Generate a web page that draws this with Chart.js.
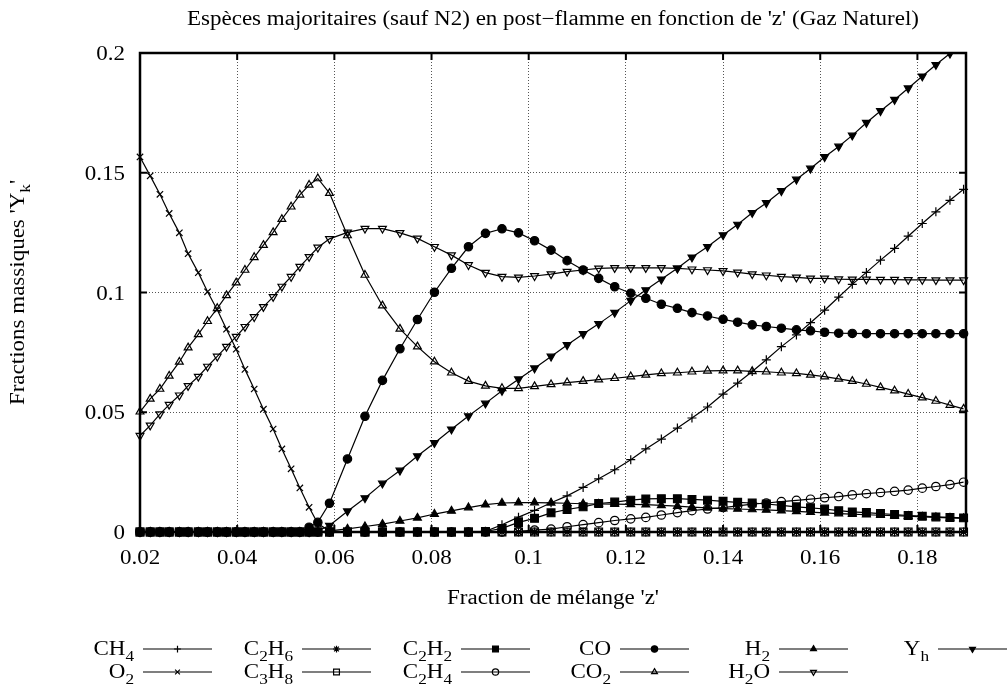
<!DOCTYPE html>
<html>
<head>
<meta charset="utf-8">
<title>Espèces majoritaires</title>
<script src="https://cdn.jsdelivr.net/npm/chart.js@4.4.0/dist/chart.umd.min.js"></script>
<style>
  html, body { margin: 0; padding: 0; background: #fff; }
</style>
</head>
<body>
<canvas id="especes" width="1007" height="686"></canvas>
<script>
// mixture fraction z of each computed point
let zValues = [
  0.0200, 0.0221, 0.0241, 0.0260, 0.0281, 0.0299, 0.0320, 0.0339, 0.0359, 0.0378,
  0.0398, 0.0416, 0.0435, 0.0454, 0.0474, 0.0492, 0.0511, 0.0529, 0.0548, 0.0566,
  0.0590, 0.0627, 0.0663, 0.0699, 0.0735, 0.0771, 0.0806, 0.0841, 0.0876, 0.0911,
  0.0945, 0.0979, 0.1012, 0.1046, 0.1079, 0.1112, 0.1144, 0.1177, 0.1210, 0.1241,
  0.1273, 0.1306, 0.1336, 0.1368, 0.1400, 0.1430, 0.1460, 0.1489, 0.1520, 0.1551,
  0.1580, 0.1609, 0.1638, 0.1666, 0.1695, 0.1724, 0.1753, 0.1781, 0.1810, 0.1838,
  0.1867, 0.1895
];

// mass fractions Y_k
let yCH4 = [
  0, 0, 0, 0, 0, 0, 0, 0, 0, 0,
  0, 0, 0, 0, 0, 0, 0, 0, 0, 0,
  0, 0, 0, 0, 0, 0, 0, 0, 0, 0.0003,
  0.0030, 0.0062, 0.0090, 0.0122, 0.0151, 0.0186, 0.0222, 0.0260, 0.0302, 0.0347,
  0.0388, 0.0434, 0.0476, 0.0522, 0.0576, 0.0622, 0.0670, 0.0719, 0.0774, 0.0823,
  0.0874, 0.0926, 0.0981, 0.1034, 0.1084, 0.1135, 0.1184, 0.1235, 0.1288, 0.1337,
  0.1385, 0.1431
];
let yC2H6 = [
  0, 0, 0, 0, 0, 0, 0, 0, 0, 0,
  0, 0, 0, 0, 0, 0, 0, 0, 0, 0,
  0, 0, 0, 0, 0, 0, 0, 0, 0, 0,
  0, 0, 0, 0, 0, 0, 0, 0, 0, 0,
  0, 0, 0, 0, 0, 0, 0, 0, 0, 0,
  0, 0, 0, 0, 0, 0, 0, 0, 0, 0,
  0, 0
];
let yC2H2 = [
  0, 0, 0, 0, 0, 0, 0, 0, 0, 0,
  0, 0, 0, 0, 0, 0, 0, 0, 0, 0,
  0, 0, 0, 0, 0, 0, 0, 0, 0, 0.0002,
  0.0015, 0.0040, 0.0057, 0.0080, 0.0094, 0.0105, 0.0119, 0.0125, 0.0133, 0.0138,
  0.0139, 0.0139, 0.0136, 0.0133, 0.0128, 0.0124, 0.0121, 0.0117, 0.0111, 0.0105,
  0.0101, 0.0096, 0.0089, 0.0084, 0.0081, 0.0077, 0.0073, 0.0069, 0.0066, 0.0063,
  0.0061, 0.0059
];
let yCO = [
  0, 0, 0, 0, 0, 0, 0, 0, 0, 0,
  0, 0, 0, 0, 0, 0, 0, 0, 0.0020, 0.0040,
  0.0120, 0.0305, 0.0483, 0.0633, 0.0765, 0.0887, 0.1001, 0.1101, 0.1191, 0.1247,
  0.1266, 0.1249, 0.1216, 0.1177, 0.1133, 0.1094, 0.1059, 0.1024, 0.0997, 0.0976,
  0.0951, 0.0934, 0.0916, 0.0902, 0.0888, 0.0876, 0.0865, 0.0858, 0.0851, 0.0844,
  0.0840, 0.0834, 0.0830, 0.0829, 0.0828, 0.0828, 0.0828, 0.0828, 0.0828, 0.0828,
  0.0828, 0.0828
];
let yH2 = [
  0, 0, 0, 0, 0, 0, 0, 0, 0, 0,
  0, 0, 0, 0, 0, 0, 0, 0, 0, 0,
  0.0005, 0.0013, 0.0023, 0.0033, 0.0046, 0.0059, 0.0075, 0.0088, 0.0102, 0.0114,
  0.0121, 0.0123, 0.0123, 0.0122, 0.0120, 0.0118, 0.0117, 0.0116, 0.0115, 0.0114,
  0.0111, 0.0108, 0.0104, 0.0101, 0.0098, 0.0096, 0.0094, 0.0092, 0.0089, 0.0086,
  0.0083, 0.0080, 0.0077, 0.0075, 0.0072, 0.0070, 0.0068, 0.0066, 0.0063, 0.0061,
  0.0059, 0.0057
];
let yYh = [
  0, 0, 0, 0, 0, 0, 0, 0, 0, 0,
  0, 0, 0, 0, 0, 0, 0, 0, 0, 0.0005,
  0.0027, 0.0087, 0.0142, 0.0203, 0.0257, 0.0317, 0.0372, 0.0429, 0.0484, 0.0537,
  0.0590, 0.0638, 0.0684, 0.0733, 0.0781, 0.0827, 0.0869, 0.0916, 0.0966, 0.1010,
  0.1055, 0.1101, 0.1147, 0.1191, 0.1240, 0.1284, 0.1333, 0.1374, 0.1424, 0.1472,
  0.1518, 0.1566, 0.1610, 0.1656, 0.1709, 0.1758, 0.1805, 0.1853, 0.1903, 0.1951,
  0.1998, 0.2045
];
let yO2 = [
  0.1566, 0.1487, 0.1410, 0.1330, 0.1249, 0.1162, 0.1083, 0.1003, 0.0928, 0.0847,
  0.0763, 0.0679, 0.0597, 0.0513, 0.0430, 0.0347, 0.0264, 0.0184, 0.0103, 0.0035,
  0.0004, 0.0001, 0, 0, 0, 0, 0, 0, 0, 0,
  0, 0, 0, 0, 0, 0, 0, 0, 0, 0,
  0, 0, 0, 0, 0, 0, 0, 0, 0, 0,
  0, 0, 0, 0, 0, 0, 0, 0, 0, 0,
  0, 0
];
let yC3H8 = [
  0, 0, 0, 0, 0, 0, 0, 0, 0, 0,
  0, 0, 0, 0, 0, 0, 0, 0, 0, 0,
  0, 0, 0, 0, 0, 0, 0, 0, 0, 0,
  0, 0, 0, 0, 0, 0, 0, 0, 0, 0,
  0, 0, 0, 0, 0, 0, 0, 0, 0, 0,
  0, 0, 0, 0, 0, 0, 0, 0, 0, 0,
  0, 0
];
let yC2H4 = [
  0, 0, 0, 0, 0, 0, 0, 0, 0, 0,
  0, 0, 0, 0, 0, 0, 0, 0, 0, 0,
  0, 0, 0, 0, 0, 0, 0, 0, 0, 0,
  0, 0.0003, 0.0008, 0.0012, 0.0022, 0.0031, 0.0039, 0.0048, 0.0055, 0.0061,
  0.0071, 0.0081, 0.0089, 0.0096, 0.0102, 0.0109, 0.0116, 0.0121, 0.0127, 0.0132,
  0.0137, 0.0143, 0.0148, 0.0155, 0.0160, 0.0165, 0.0170, 0.0175, 0.0183, 0.0190,
  0.0198, 0.0208
];
let yCO2 = [
  0.0502, 0.0556, 0.0597, 0.0652, 0.0710, 0.0770, 0.0825, 0.0880, 0.0934, 0.0988,
  0.1041, 0.1094, 0.1147, 0.1198, 0.1251, 0.1306, 0.1358, 0.1408, 0.1449, 0.1476,
  0.1415, 0.1238, 0.1073, 0.0945, 0.0848, 0.0774, 0.0711, 0.0665, 0.0630, 0.0610,
  0.0600, 0.0600, 0.0608, 0.0616, 0.0624, 0.0630, 0.0636, 0.0642, 0.0649, 0.0656,
  0.0662, 0.0665, 0.0669, 0.0673, 0.0674, 0.0674, 0.0671, 0.0669, 0.0665, 0.0662,
  0.0656, 0.0649, 0.0639, 0.0630, 0.0618, 0.0604, 0.0590, 0.0576, 0.0561, 0.0547,
  0.0530, 0.0514
];
let yH2O = [
  0.0402, 0.0445, 0.0492, 0.0532, 0.0571, 0.0610, 0.0649, 0.0691, 0.0733, 0.0774,
  0.0816, 0.0857, 0.0898, 0.0940, 0.0982, 0.1025, 0.1066, 0.1108, 0.1149, 0.1188,
  0.1224, 0.1251, 0.1267, 0.1267, 0.1249, 0.1226, 0.1191, 0.1156, 0.1115, 0.1083,
  0.1066, 0.1063, 0.1069, 0.1077, 0.1087, 0.1094, 0.1101, 0.1103, 0.1103, 0.1103,
  0.1103, 0.1101, 0.1097, 0.1094, 0.1090, 0.1084, 0.1077, 0.1072, 0.1066, 0.1063,
  0.1059, 0.1059, 0.1056, 0.1055, 0.1055, 0.1054, 0.1054, 0.1053, 0.1053, 0.1052,
  0.1052, 0.1052
];

// species names, "_" puts the next character as subscript
let speciesNames = ['CH_4', 'C_2H_6', 'C_2H_2', 'CO', 'H_2', 'Y_h', 'O_2', 'C_3H_8', 'C_2H_4', 'CO_2', 'H_2O'];
let speciesValues = [yCH4, yC2H6, yC2H2, yCO, yH2, yYh, yO2, yC3H8, yC2H4, yCO2, yH2O];
let xTickLabels = ['0.02', '0.04', '0.06', '0.08', '0.1', '0.12', '0.14', '0.16', '0.18'];
let yTickLabels = ['0', '0.05', '0.1', '0.15', '0.2'];

let titleText = "Espèces majoritaires (sauf N2) en post\u2212flamme en fonction de 'z' (Gaz Naturel)";
let xTitleText = "Fraction de mélange 'z'";
let yTitleText = "Fractions massiques 'Y_k'";

const SERIF = '"Liberation Serif", "DejaVu Serif", serif';

// marker for each species: [pointStyle, filled, rotation, radius]
const markers = [
  ['cross', false, 0, 4.5],
  ['star', false, 0, 4.5],
  ['rect', true, 0, 5.5],
  ['circle', true, 0, 4.2],
  ['triangle', true, 0, 4.5],
  ['triangle', true, 180, 4.5],
  ['crossRot', false, 0, 4.5],
  ['rect', false, 0, 5.5],
  ['circle', false, 0, 4.2],
  ['triangle', false, 0, 4.5],
  ['triangle', false, 180, 4.5]
];

let datasets = speciesNames.map((name, i) => {
  let m = markers[i];
  return {
    label: name,
    data: zValues.map((z, k) => ({ x: z, y: speciesValues[i][k] })),
    borderColor: '#000',
    borderWidth: 1.2,
    pointStyle: m[0],
    pointRotation: m[2],
    pointRadius: m[3],
    pointHoverRadius: m[3],
    pointBackgroundColor: m[1] ? '#000' : 'rgba(0,0,0,0)',
    pointBorderColor: '#000',
    pointBorderWidth: 1.2,
    tension: 0,
    clip: { left: 6, right: 6, top: 0, bottom: 6 }
  };
});

// width of a string where "_x" means x as subscript
function richWidth(ctx, str, size) {
  let w = 0;
  for (let i = 0; i < str.length; i++) {
    if (str[i] === '_' && i + 1 < str.length) {
      ctx.font = (size * 0.75) + 'px ' + SERIF;
      w += ctx.measureText(str[i + 1]).width;
      i++;
    } else {
      ctx.font = size + 'px ' + SERIF;
      w += ctx.measureText(str[i]).width;
    }
  }
  return w;
}

// sx stretches the text horizontally
function drawRich(ctx, str, x, y, size, align, sx) {
  sx = sx || 1;
  let w = richWidth(ctx, str, size) * sx;
  let start = x;
  if (align === 'center') start = x - w / 2;
  if (align === 'right') start = x - w;
  ctx.save();
  ctx.translate(start, y);
  ctx.scale(sx, 1);
  ctx.textAlign = 'left';
  ctx.textBaseline = 'alphabetic';
  let cx = 0;
  let plain = '';
  const flush = () => {
    if (!plain) return;
    ctx.font = size + 'px ' + SERIF;
    ctx.fillText(plain, cx, 0);
    cx += ctx.measureText(plain).width;
    plain = '';
  };
  for (let i = 0; i < str.length; i++) {
    if (str[i] === '_' && i + 1 < str.length) {
      flush();
      ctx.font = (size * 0.75) + 'px ' + SERIF;
      ctx.fillText(str[i + 1], cx, size * 0.3);
      cx += ctx.measureText(str[i + 1]).width;
      i++;
    } else {
      plain += str[i];
    }
  }
  flush();
  ctx.restore();
}

const TEXT_SIZE = 20;
const TEXT_SX = 1.15;

// frame, inward ticks, tick labels, titles and the key under the plot
const decorations = {
  id: 'decorations',
  afterDraw(chart) {
    const ctx = chart.ctx;
    const area = chart.chartArea;
    const xs = chart.scales.x;
    const ys = chart.scales.y;
    ctx.save();
    ctx.strokeStyle = '#000';
    ctx.fillStyle = '#000';

    // inward tick marks on all four sides
    ctx.lineWidth = 2;
    ctx.beginPath();
    xs.ticks.forEach(t => {
      let px = xs.getPixelForValue(t.value);
      ctx.moveTo(px, area.bottom); ctx.lineTo(px, area.bottom - 7);
      ctx.moveTo(px, area.top); ctx.lineTo(px, area.top + 7);
    });
    ys.ticks.forEach(t => {
      let py = ys.getPixelForValue(t.value);
      ctx.moveTo(area.left, py); ctx.lineTo(area.left + 7, py);
      ctx.moveTo(area.right, py); ctx.lineTo(area.right - 7, py);
    });
    ctx.stroke();

    ctx.lineWidth = 2.5;
    ctx.strokeRect(area.left, area.top, area.right - area.left, area.bottom - area.top);

    // tick labels
    xs.ticks.forEach(t => {
      drawRich(ctx, t.label, xs.getPixelForValue(t.value), area.bottom + 32, TEXT_SIZE, 'center', TEXT_SX);
    });
    ys.ticks.forEach(t => {
      drawRich(ctx, t.label, area.left - 15, ys.getPixelForValue(t.value) + 7, TEXT_SIZE, 'right', TEXT_SX);
    });

    // titles
    let midX = (area.left + area.right) / 2;
    drawRich(ctx, titleText, midX, 25, TEXT_SIZE, 'center', TEXT_SX);
    drawRich(ctx, xTitleText, midX, 604, TEXT_SIZE, 'center', TEXT_SX);
    ctx.save();
    ctx.translate(24, (area.top + area.bottom) / 2);
    ctx.rotate(-Math.PI / 2);
    drawRich(ctx, yTitleText, 0, 0, TEXT_SIZE, 'center', TEXT_SX);
    ctx.restore();

    // key: two rows, six columns
    chart.data.datasets.forEach((ds, i) => {
      let col = i < 6 ? i : i - 6;
      let row = i < 6 ? 0 : 1;
      let x0 = 143 + col * 159;
      let base = row === 0 ? 655 : 678;
      let ly = base - 6;
      drawRich(ctx, ds.label, x0 - 9, base, TEXT_SIZE, 'right', TEXT_SX);
      ctx.lineWidth = 1.2;
      ctx.beginPath();
      ctx.moveTo(x0, ly);
      ctx.lineTo(x0 + 69, ly);
      ctx.stroke();
      ctx.fillStyle = ds.pointBackgroundColor;
      Chart.helpers.drawPoint(ctx, {
        pointStyle: ds.pointStyle,
        rotation: ds.pointRotation,
        radius: ds.pointRadius * 0.75,
        borderWidth: 1.2
      }, x0 + 34.5, ly);
      ctx.fillStyle = '#000';
    });
    ctx.restore();
  }
};

new Chart(document.getElementById('especes'), {
  type: 'line',
  data: { datasets: datasets },
  options: {
    responsive: false,
    animation: false,
    events: [],
    layout: { padding: { left: 0, right: 41, top: 53, bottom: 0 } },
    plugins: {
      legend: { display: false },
      title: { display: false },
      tooltip: { enabled: false }
    },
    scales: {
      x: {
        type: 'linear',
        min: 0.02,
        max: 0.19,
        afterFit: s => { s.height = 154; },
        ticks: {
          display: false,
          stepSize: 0.02,
          includeBounds: false,
          autoSkip: false,
          callback: (v) => xTickLabels[Math.round((v - 0.02) / 0.02)]
        },
        grid: { color: '#555', lineWidth: 1, drawTicks: false },
        border: { display: false, dash: [1, 2] }
      },
      y: {
        type: 'linear',
        min: 0,
        max: 0.2,
        afterFit: s => { s.width = 140; },
        ticks: {
          display: false,
          stepSize: 0.05,
          autoSkip: false,
          callback: (v) => yTickLabels[Math.round(v / 0.05)]
        },
        grid: { color: '#555', lineWidth: 1, drawTicks: false },
        border: { display: false, dash: [1, 2] }
      }
    }
  },
  plugins: [decorations]
});
</script>
</body>
</html>
